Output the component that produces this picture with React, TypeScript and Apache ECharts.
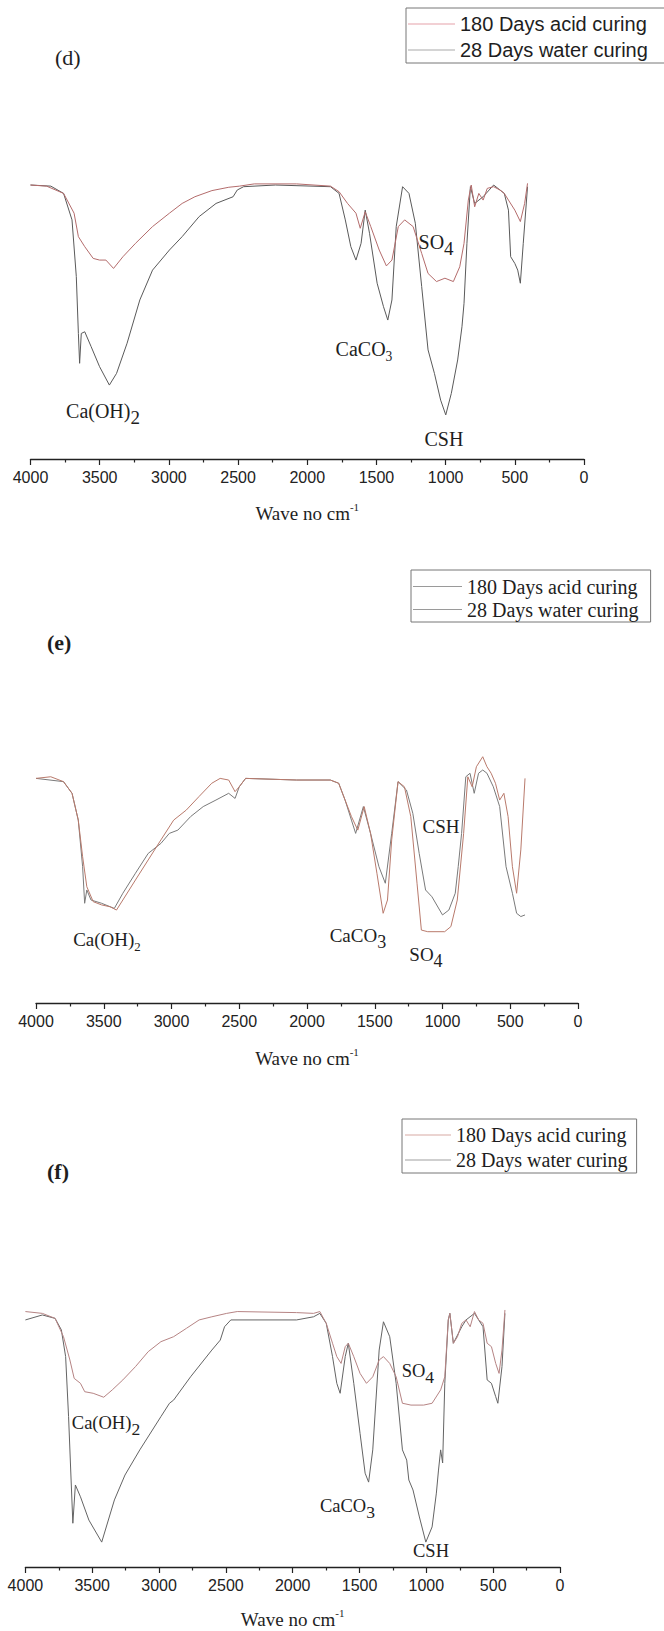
import React, { useEffect, useRef } from 'react';
import * as echarts from 'echarts';

// ---------- names / ticks ----------
const SERIES_NAMES = ['180 Days acid curing', '28 Days water curing'];
const PANEL_LABELS = ['(d)', '(e)', '(f)'];
const X_MIN = 0;
const X_MAX = 4000;
const X_STEP = 500;
const AXIS_TITLE = 'Wave no cm';
const AXIS_TITLE_SUP = '-1';

// ---------- panel (d): [wavenumber cm-1, transmittance a.u.] ----------
const dAcid: [number, number][] = [
  [4000, 98.2], [3884, 97.8], [3761, 95.2], [3685, 88.1], [3654, 79.7], [3608, 76.1], [3547, 71.9],
  [3501, 71.3], [3455, 71.3], [3400, 68.3], [3332, 72.5], [3241, 77.3], [3118, 83.3], [2996, 88.1],
  [2904, 91.6], [2812, 94.0], [2689, 96.2], [2567, 97.4], [2490, 97.8], [2383, 98.6], [2077, 98.6],
  [1832, 97.8], [1770, 95.8], [1709, 91.6], [1648, 88.1], [1617, 82.7], [1581, 88.6], [1541, 83.3],
  [1480, 74.9], [1428, 69.2], [1388, 71.3], [1342, 83.3], [1296, 85.7], [1235, 83.3], [1173, 73.7],
  [1127, 66.5], [1066, 63.6], [1005, 64.8], [944, 63.6], [898, 68.9], [867, 77.3], [836, 92.8],
  [815, 98.2], [790, 90.4], [760, 95.2], [729, 92.8], [699, 97.0], [653, 97.6], [607, 96.4],
  [576, 95.2], [546, 92.8], [500, 89.2], [460, 85.1], [429, 91.6], [408, 98.8],
];
const dWater: [number, number][] = [
  [4000, 98.2], [3853, 97.8], [3761, 95.2], [3700, 85.7], [3669, 65.4], [3654, 45.0], [3645, 34.3],
  [3633, 45.0], [3608, 45.6], [3562, 40.3], [3501, 33.1], [3430, 26.5], [3378, 30.7], [3302, 41.5],
  [3210, 57.0], [3118, 67.7], [2996, 74.9], [2904, 79.7], [2781, 86.9], [2659, 91.6], [2536, 94.0],
  [2506, 96.4], [2460, 97.6], [2230, 98.2], [1832, 97.6], [1770, 95.2], [1725, 85.7], [1685, 76.1],
  [1648, 71.3], [1611, 77.3], [1581, 89.2], [1550, 80.9], [1495, 63.0], [1449, 54.6], [1418, 49.8],
  [1388, 57.0], [1357, 83.3], [1311, 97.6], [1265, 95.2], [1219, 84.5], [1173, 61.8], [1127, 39.1],
  [1081, 30.7], [1036, 21.1], [999, 15.8], [959, 23.5], [913, 35.5], [882, 47.4], [867, 55.8],
  [846, 77.3], [821, 97.6], [790, 91.6], [729, 94.0], [653, 98.2], [576, 95.2], [546, 89.2],
  [530, 72.5], [500, 70.1], [479, 67.7], [460, 63.0], [439, 77.3], [408, 97.6],
];

// ---------- panel (e) ----------
const eAcid: [number, number][] = [
  [4000, 96.4], [3891, 97.1], [3797, 95.0], [3734, 90.0], [3688, 78.5], [3656, 62.8], [3625, 49.9],
  [3578, 43.5], [3516, 42.1], [3453, 41.3], [3406, 39.9], [3359, 44.2], [3266, 52.8], [3172, 61.4],
  [3078, 70.0], [2984, 78.5], [2891, 82.8], [2797, 88.6], [2703, 94.3], [2641, 96.4], [2578, 95.7],
  [2531, 90.7], [2500, 92.8], [2453, 96.4], [2078, 95.7], [1828, 95.7], [1766, 94.3], [1719, 87.1],
  [1672, 80.0], [1625, 74.2], [1578, 84.3], [1531, 72.8], [1484, 55.7], [1438, 38.5], [1406, 44.2],
  [1375, 70.0], [1328, 95.0], [1281, 92.8], [1234, 80.0], [1188, 51.4], [1156, 31.3], [1109, 30.6],
  [984, 30.6], [938, 32.8], [891, 44.2], [844, 72.8], [813, 97.1], [781, 92.8], [750, 101.4],
  [703, 105.7], [672, 101.4], [641, 98.6], [609, 94.3], [578, 87.1], [547, 90.0], [516, 80.0],
  [484, 58.5], [453, 47.1], [422, 65.7], [391, 96.4],
];
const eWater: [number, number][] = [
  [4000, 96.4], [3797, 95.0], [3734, 90.0], [3688, 78.5], [3656, 58.5], [3641, 42.8], [3625, 48.5],
  [3594, 44.2], [3516, 42.8], [3422, 40.6], [3359, 47.1], [3266, 55.7], [3172, 64.2], [3078, 68.5],
  [3016, 72.8], [2953, 74.2], [2859, 80.0], [2766, 84.3], [2672, 87.1], [2578, 90.0], [2531, 87.8],
  [2500, 92.8], [2453, 96.4], [2078, 95.7], [1828, 95.7], [1766, 94.3], [1719, 87.1], [1672, 78.5],
  [1641, 72.8], [1584, 84.3], [1531, 72.8], [1469, 58.5], [1422, 51.4], [1375, 72.8], [1328, 95.0],
  [1266, 91.4], [1219, 81.4], [1172, 64.2], [1125, 48.5], [1078, 45.6], [1000, 37.8], [953, 39.9],
  [906, 47.1], [884, 58.5], [859, 72.8], [828, 97.1], [797, 98.6], [766, 90.0], [734, 98.6],
  [703, 100.0], [672, 98.6], [625, 92.8], [578, 84.3], [531, 58.5], [484, 47.1], [453, 38.5],
  [422, 37.1], [391, 37.8],
];

// ---------- panel (f) ----------
const fAcid: [number, number][] = [
  [4000, 97.5], [3873, 96.8], [3778, 94.9], [3715, 87.9], [3667, 79.0], [3635, 72.0], [3588, 70.1],
  [3556, 66.9], [3493, 66.3], [3414, 64.8], [3350, 67.6], [3271, 71.4], [3176, 76.5], [3081, 82.2],
  [2986, 86.0], [2891, 87.9], [2795, 91.1], [2700, 94.3], [2605, 95.5], [2494, 96.8], [2415, 97.5],
  [1971, 97.1], [1844, 96.8], [1797, 97.5], [1749, 93.0], [1702, 85.4], [1670, 80.3], [1638, 77.7],
  [1607, 84.1], [1584, 85.4], [1543, 80.3], [1496, 73.9], [1448, 70.1], [1401, 72.6], [1353, 79.0],
  [1321, 80.3], [1274, 77.7], [1226, 72.6], [1179, 62.5], [1115, 61.8], [1020, 61.8], [957, 62.5],
  [893, 67.6], [862, 72.6], [836, 94.3], [824, 96.8], [798, 85.4], [767, 87.9], [735, 93.0],
  [703, 94.3], [672, 91.7], [640, 97.5], [608, 94.3], [576, 93.0], [545, 85.4], [513, 84.1],
  [481, 77.7], [456, 73.9], [434, 82.8], [412, 98.1],
];
const fWater: [number, number][] = [
  [4000, 94.3], [3873, 96.2], [3778, 94.9], [3731, 90.5], [3699, 80.3], [3677, 57.4], [3658, 33.2],
  [3645, 16.7], [3626, 31.3], [3588, 26.8], [3525, 17.9], [3429, 9.5], [3334, 25.6], [3255, 35.1],
  [3144, 44.7], [2986, 57.4], [2922, 62.5], [2891, 63.7], [2764, 72.6], [2605, 82.8], [2542, 86.6],
  [2510, 91.7], [2463, 94.3], [1971, 94.3], [1844, 95.5], [1797, 96.8], [1749, 93.0], [1702, 80.3],
  [1670, 70.1], [1645, 66.3], [1607, 80.3], [1584, 85.4], [1543, 70.1], [1496, 51.0], [1458, 35.8],
  [1432, 32.4], [1401, 44.7], [1353, 82.8], [1321, 93.6], [1274, 87.9], [1226, 70.1], [1179, 44.7],
  [1147, 40.8], [1131, 33.2], [1100, 29.4], [1052, 19.1], [1004, 9.5], [957, 15.3], [925, 28.2],
  [909, 37.0], [893, 44.7], [878, 39.7], [862, 70.1], [836, 94.3], [824, 96.8], [798, 85.4],
  [735, 91.7], [703, 94.3], [640, 96.8], [576, 91.7], [545, 71.4], [513, 70.1], [481, 65.0],
  [465, 62.5], [434, 76.5], [412, 96.8],
];

// ---------- band annotations ----------
type Note = { text: string; sub: string; small?: boolean; wn: number; t: number };
const dNotes: Note[] = [
  { text: 'Ca(OH)', sub: '2', wn: 3476, t: 17 },
  { text: 'CaCO', sub: '3', small: true, wn: 1590, t: 39 },
  { text: 'SO', sub: '4', wn: 1069, t: 77.3 },
  { text: 'CSH', sub: '', wn: 1012, t: 6.8 },
];
const eNotes: Note[] = [
  { text: 'Ca(OH)', sub: '2', small: true, wn: 3476, t: 27 },
  { text: 'CaCO', sub: '3', wn: 1624, t: 28.5 },
  { text: 'SO', sub: '4', wn: 1122, t: 20.5 },
  { text: 'CSH', sub: '', wn: 1011, t: 75.5 },
];
const fNotes: Note[] = [
  { text: 'Ca(OH)', sub: '2', wn: 3397, t: 54.8 },
  { text: 'SO', sub: '4', wn: 1063, t: 74.7 },
  { text: 'CaCO', sub: '3', wn: 1590, t: 23.1 },
  { text: 'CSH', sub: '', wn: 965, t: 5.7 },
];

const SERIF = "'Liberation Serif', 'Times New Roman', serif";
const SANS = "'Liberation Sans', Arial, sans-serif";
const INK = '#1e1e1e';

function buildOption() {
  const grids = [
    { left: 30.5, right: 80, top: 180, bottom: 1172 },
    { left: 36, right: 86, top: 770, bottom: 628 },
    { left: 25.4, right: 104, top: 1305, bottom: 64 },
  ];
  const nameGaps = [42, 43, 40];
  const xAxes = grids.map((_, i) => ({
    gridIndex: i,
    type: 'value',
    inverse: true,
    min: X_MIN,
    max: X_MAX,
    interval: X_STEP,
    name: `{t|${AXIS_TITLE}}{s|${AXIS_TITLE_SUP}}`,
    nameLocation: 'middle',
    nameGap: nameGaps[i],
    nameTextStyle: {
      rich: {
        t: { fontFamily: SERIF, fontSize: 19, color: INK, lineHeight: 22, verticalAlign: 'bottom' },
        s: { fontFamily: SERIF, fontSize: 11, color: INK, lineHeight: 11, verticalAlign: 'top', padding: [0, 0, 11, 0] },
      },
    },
    axisLine: { show: true, onZero: false, lineStyle: { color: '#222', width: 1.3 } },
    axisTick: { show: true, length: 6, lineStyle: { color: '#222', width: 1.2 } },
    minorTick: { show: true, splitNumber: 2, length: 3.5, lineStyle: { color: '#222', width: 1.2 } },
    minorSplitLine: { show: false },
    splitLine: { show: false },
    axisLabel: {
      fontFamily: SANS, fontSize: 16, color: '#222', margin: 10,
      formatter: (v: number) => String(v),
    },
  }));
  const yAxes = grids.map((_, i) => ({ gridIndex: i, type: 'value', min: 0, max: 100, show: false }));

  const noteMark = (notes: Note[], fs: number) => ({
    silent: true,
    symbol: 'circle',
    symbolSize: 1,
    itemStyle: { color: 'rgba(0,0,0,0)' },
    label: {
      show: true,
      position: 'inside',
      color: INK,
      rich: {
        b: { fontFamily: SERIF, fontSize: fs, color: INK, lineHeight: fs + 2, verticalAlign: 'top' },
        s: { fontFamily: SERIF, fontSize: fs * 0.95, color: INK, lineHeight: fs + 2, verticalAlign: 'top', padding: [7, 0, 0, 0] },
        ss: { fontFamily: SERIF, fontSize: fs * 0.68, color: INK, lineHeight: fs, verticalAlign: 'top', padding: [10, 0, 0, 0] },
      },
    },
    data: notes.map((n) => ({
      coord: [n.wn, n.t],
      label: { formatter: n.sub ? `{b|${n.text}}{${n.small ? 'ss' : 's'}|${n.sub}}` : `{b|${n.text}}` },
    })),
  });

  const panels = [
    { acid: dAcid, water: dWater, notes: dNotes, fs: 20, acidColor: '#b46c6c', waterColor: '#5a5a5a' },
    { acid: eAcid, water: eWater, notes: eNotes, fs: 19, acidColor: '#b97a6c', waterColor: '#7a7a7a' },
    { acid: fAcid, water: fWater, notes: fNotes, fs: 18.5, acidColor: '#b68484', waterColor: '#646464' },
  ];
  const series: any[] = [];
  panels.forEach((p, i) => {
    series.push({
      type: 'line', name: SERIES_NAMES[1], xAxisIndex: i, yAxisIndex: i, data: p.water,
      symbol: 'none', clip: false, silent: true,
      lineStyle: { color: p.waterColor, width: 1 }, itemStyle: { color: p.waterColor },
    });
    series.push({
      type: 'line', name: SERIES_NAMES[0], xAxisIndex: i, yAxisIndex: i, data: p.acid,
      symbol: 'none', clip: false, silent: true,
      lineStyle: { color: p.acidColor, width: 1 }, itemStyle: { color: p.acidColor },
      markPoint: noteMark(p.notes, p.fs),
    });
  });

  const legendItem = (name: string, color: string) => ({
    name, icon: 'rect', itemStyle: { color, borderWidth: 0 },
  });
  const legends = [
    {
      left: 406, top: 8, padding: [4, 17, 1, 2], itemGap: 2, itemWidth: 47,
      textStyle: { fontFamily: SANS, fontSize: 20, lineHeight: 24, color: INK },
      data: [legendItem(SERIES_NAMES[0], '#e6a2aa'), legendItem(SERIES_NAMES[1], '#aaaaaa')],
    },
    {
      left: 411, top: 570, padding: [6, 12, 2, 2], itemGap: 2, itemWidth: 49,
      textStyle: { fontFamily: SERIF, fontSize: 20, lineHeight: 21, color: INK },
      data: [legendItem(SERIES_NAMES[0], '#9a9a9a'), legendItem(SERIES_NAMES[1], '#9a9a9a')],
    },
    {
      left: 402, top: 1119, padding: [5, 9, 2, 3], itemGap: 3, itemWidth: 46,
      textStyle: { fontFamily: SERIF, fontSize: 20, lineHeight: 22, color: INK },
      data: [legendItem(SERIES_NAMES[0], '#d8aaa4'), legendItem(SERIES_NAMES[1], '#a0a0a0')],
    },
  ].map((l) => ({
    ...l, orient: 'vertical', selectedMode: false, borderColor: '#777', borderWidth: 1,
    itemHeight: 1.2, icon: 'rect',
  }));

  const titles = [
    { text: PANEL_LABELS[0], left: 55, top: 46, weight: 'normal' },
    { text: PANEL_LABELS[1], left: 47, top: 631, weight: 'bold' },
    { text: PANEL_LABELS[2], left: 47, top: 1160, weight: 'bold' },
  ].map((t) => ({
    text: t.text, left: t.left, top: t.top, padding: 0,
    textStyle: { fontFamily: SERIF, fontSize: 22, fontWeight: t.weight, color: INK },
  }));

  return {
    animation: false,
    backgroundColor: '#ffffff',
    textStyle: { fontFamily: SERIF },
    title: titles,
    legend: legends,
    grid: grids,
    xAxis: xAxes,
    yAxis: yAxes,
    series,
  };
}

export default function App() {
  const ref = useRef<HTMLDivElement>(null);
  useEffect(() => {
    if (!ref.current) return;
    const chart = echarts.init(ref.current, undefined, { renderer: 'svg' });
    chart.setOption(buildOption() as any);
    return () => chart.dispose();
  }, []);
  return (
    <div
      ref={ref}
      style={{ position: 'absolute', left: 0, top: 0, width: 664, height: 1631, background: '#fff' }}
    />
  );
}
